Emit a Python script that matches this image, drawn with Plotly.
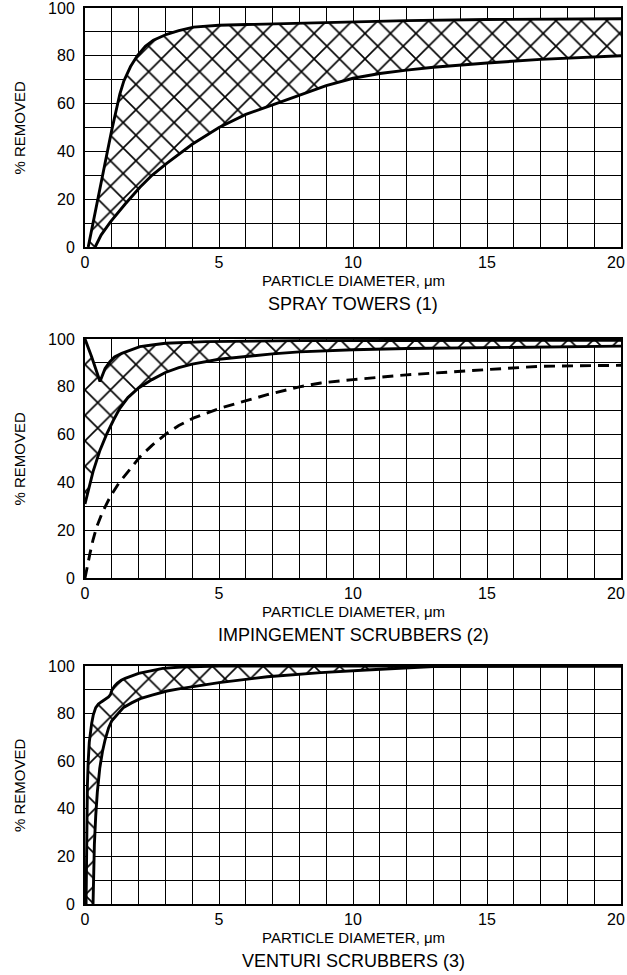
import plotly.graph_objects as go

# ---------------- data ----------------
x_tick_vals = [0, 5, 10, 15, 20]
x_tick_text = ["0", "5", "10", "15", "20"]
y_tick_vals = [0, 20, 40, 60, 80, 100]

captions = ["SPRAY TOWERS (1)", "IMPINGEMENT SCRUBBERS (2)", "VENTURI SCRUBBERS (3)"]
x_title = "PARTICLE DIAMETER, \u03bcm"
y_title = "% REMOVED"

# Spray towers
spray_upper_x = [0.12, 0.45, 0.8, 1.0, 1.15, 1.3, 1.45, 1.7, 1.95, 2.25, 2.55, 3.05, 3.5, 4.05, 5.0, 6.0, 8.0, 10.0, 12.0, 15.0, 17.0, 20.0]
spray_upper_y = [0, 19, 38, 49, 57, 64, 69.5, 75.5, 80, 84, 86.5, 89, 90.5, 92, 92.8, 93.1, 93.8, 94.2, 94.7, 95.2, 95.4, 95.5]
spray_lower_x = [0.38, 0.6, 0.95, 1.5, 2.05, 2.5, 3.05, 4.0, 5.0, 6.0, 7.0, 8.0, 9.0, 10.0, 11.0, 12.0, 13.0, 15.0, 17.0, 20.0]
spray_lower_y = [0, 5, 10.5, 18, 25, 30, 35, 43, 50, 55.5, 59.5, 63.5, 67.5, 70.6, 72.6, 74, 75.2, 77, 78.5, 80]

# Impingement scrubbers
imp_upper_x = [0, 0.25, 0.56, 0.62, 0.75, 0.93, 1.1, 1.37, 1.7, 2.05, 2.5, 3.0, 4.5, 6.0, 8.0, 12.0, 16.0, 20.0]
imp_upper_y = [100, 92.5, 82.2, 84.2, 87.7, 90.5, 92.5, 94, 95.5, 96.8, 97.5, 98.2, 98.9, 99.1, 99.3, 99.4, 99.5, 99.5]
imp_lower_x = [0, 0.15, 0.3, 0.56, 0.8, 1.06, 1.3, 1.6, 2.0, 2.5, 3.0, 3.5, 4.0, 5.0, 6.0, 7.0, 8.0, 10.0, 12.0, 15.0, 17.0, 20.0]
imp_lower_y = [31, 38, 44.5, 53.5, 60, 66, 71, 75.5, 79.5, 83, 86, 88, 89.5, 91.5, 92.8, 93.8, 94.6, 95.5, 96, 96.4, 96.7, 97]
imp_dash_x = [0, 0.1, 0.19, 0.3, 0.44, 0.65, 0.94, 1.25, 1.56, 2.06, 2.5, 3.06, 3.5, 4.06, 5.06, 6.0, 6.8, 8.0, 8.8, 10.0, 12.0, 15.0, 17.0, 20.0]
imp_dash_y = [0, 6, 10.5, 16, 21.5, 27.5, 34, 39.5, 44, 50.8, 55.5, 60.6, 63.8, 67, 71.1, 74.2, 76.7, 80, 81.6, 83, 85, 87.2, 88.6, 89]

# Venturi scrubbers
ven_upper_x = [0.04, 0.06, 0.09, 0.12, 0.16, 0.25, 0.31, 0.4, 0.5, 0.62, 0.75, 0.88, 0.95, 1.0, 1.1, 1.2, 1.35, 1.5, 2.0, 2.5, 2.9, 3.6, 5.0, 20.0]
ven_upper_y = [0, 25, 50, 60, 68, 76, 79.5, 82.5, 84, 85, 86, 87, 88, 89.8, 91.5, 92.7, 94, 94.8, 96.9, 98.2, 99, 99.6, 100, 100]
ven_lower_x = [0.3, 0.32, 0.35, 0.4, 0.46, 0.55, 0.65, 0.75, 0.88, 1.0, 1.24, 1.44, 1.74, 2.06, 2.5, 3.06, 3.5, 4.4, 5.0, 6.8, 8.8, 10.5, 12.0, 13.0, 20.0]
ven_lower_y = [0, 12, 25, 37, 47, 57, 64, 69, 74, 77, 80.1, 82.6, 84.5, 86.3, 87.8, 89.5, 90.4, 92, 93, 95.5, 97.2, 98.3, 99.2, 99.8, 100]

# ---------------- layout geometry ----------------
W, H = 627, 975
X0, X1 = 85, 621
panel_px = [(8, 247), (339, 578), (666, 904)]  # (top, bottom) in pixels

FONT = "Liberation Sans, Arial, Helvetica, sans-serif"
LW = 2.9
TICK_SIZE = 16

hatch = dict(shape="x", size=18, solidity=0.17, fgcolor="black", bgcolor="white", fillmode="replace")

fig = go.Figure()

bands = [
    (spray_upper_x, spray_upper_y, spray_lower_x, spray_lower_y),
    (imp_upper_x, imp_upper_y, imp_lower_x, imp_lower_y),
    (ven_upper_x, ven_upper_y, ven_lower_x, ven_lower_y),
]

for i, (ux, uy, lx, ly) in enumerate(bands):
    xa = "x" if i == 0 else f"x{i+1}"
    ya = "y" if i == 0 else f"y{i+1}"
    fig.add_trace(go.Scatter(
        x=list(ux) + list(lx)[::-1], y=list(uy) + list(ly)[::-1],
        xaxis=xa, yaxis=ya, mode="lines", fill="toself",
        fillcolor="white", fillpattern=hatch,
        line=dict(width=0, color="rgba(0,0,0,0)"), hoverinfo="skip", showlegend=False))
    for cx, cy in ((ux, uy), (lx, ly)):
        fig.add_trace(go.Scatter(
            x=cx, y=cy, xaxis=xa, yaxis=ya, mode="lines",
            line=dict(color="black", width=LW), showlegend=False, hoverinfo="skip"))
    if i == 1:
        fig.add_trace(go.Scatter(
            x=imp_dash_x, y=imp_dash_y, xaxis=xa, yaxis=ya, mode="lines",
            line=dict(color="black", width=LW, dash="11px,7px"), showlegend=False, hoverinfo="skip"))

layout = dict(
    width=W, height=H,
    margin=dict(l=0, r=0, t=0, b=0, autoexpand=False),
    paper_bgcolor="white", plot_bgcolor="white",
    font=dict(family=FONT, color="black"),
    showlegend=False,
)

# the last x tick label sits at the page edge: draw it as a right-aligned text so it stays whole
axis_tick_text = x_tick_text[:-1] + [""]

annotations = []
for i, (top, bot) in enumerate(panel_px):
    sfx = "" if i == 0 else str(i + 1)
    grid = dict(showgrid=True, gridcolor="black", gridwidth=1)
    layout["xaxis" + sfx] = dict(
        domain=[X0 / W, X1 / W], range=[0, 20], anchor="y" + sfx,
        tickmode="array", tickvals=x_tick_vals, ticktext=axis_tick_text,
        minor=dict(dtick=1, tick0=0, **grid),
        showline=True, linecolor="black", linewidth=2, mirror=True,
        zeroline=False, ticks="", ticklen=0, tickfont=dict(size=TICK_SIZE, family=FONT, color="black"),
        ticklabelstandoff=0, ticklabeloverflow="allow", automargin=False,
        fixedrange=True, layer="above traces", **grid)
    layout["yaxis" + sfx] = dict(
        domain=[1 - bot / H, 1 - top / H], range=[0, 100], anchor="x" + sfx,
        tickmode="array", tickvals=y_tick_vals,
        minor=dict(dtick=10, tick0=0, **grid),
        showline=True, linecolor="black", linewidth=2, mirror=True,
        zeroline=False, ticks="", ticklen=0, tickfont=dict(size=TICK_SIZE, family=FONT, color="black"),
        ticklabelstandoff=5, ticklabeloverflow="allow", automargin=False,
        fixedrange=True, layer="above traces", **grid)
    annotations.append(dict(
        text=x_tick_text[-1], xref="paper", yref="paper", x=626 / W, y=1 - (bot + 15) / H,
        showarrow=False, xanchor="right", yanchor="middle", borderpad=0,
        font=dict(size=TICK_SIZE, family=FONT, color="black")))
    annotations.append(dict(
        text=y_title, xref="paper", yref="paper", x=19 / W, y=1 - (top + bot) / 2 / H,
        textangle=-90, showarrow=False, xanchor="center", yanchor="middle",
        font=dict(size=15, family=FONT, color="black")))
    annotations.append(dict(
        text=x_title, xref="paper", yref="paper", x=(X0 + X1) / 2 / W, y=1 - (bot + 33) / H,
        showarrow=False, xanchor="center", yanchor="middle",
        font=dict(size=15, family=FONT, color="black")))
    annotations.append(dict(
        text=captions[i], xref="paper", yref="paper", x=(X0 + X1) / 2 / W, y=1 - (bot + 57) / H,
        showarrow=False, xanchor="center", yanchor="middle",
        font=dict(size=18, family=FONT, color="black")))

layout["annotations"] = annotations
fig.update_layout(**layout)

# remove the browser's default 8px page margin so the figure sits at the window origin
fig.write_html(
    "out.html",
    config={"displayModeBar": False, "staticPlot": True},
    post_script="document.body.style.margin='0';document.body.style.overflow='hidden';",
)
